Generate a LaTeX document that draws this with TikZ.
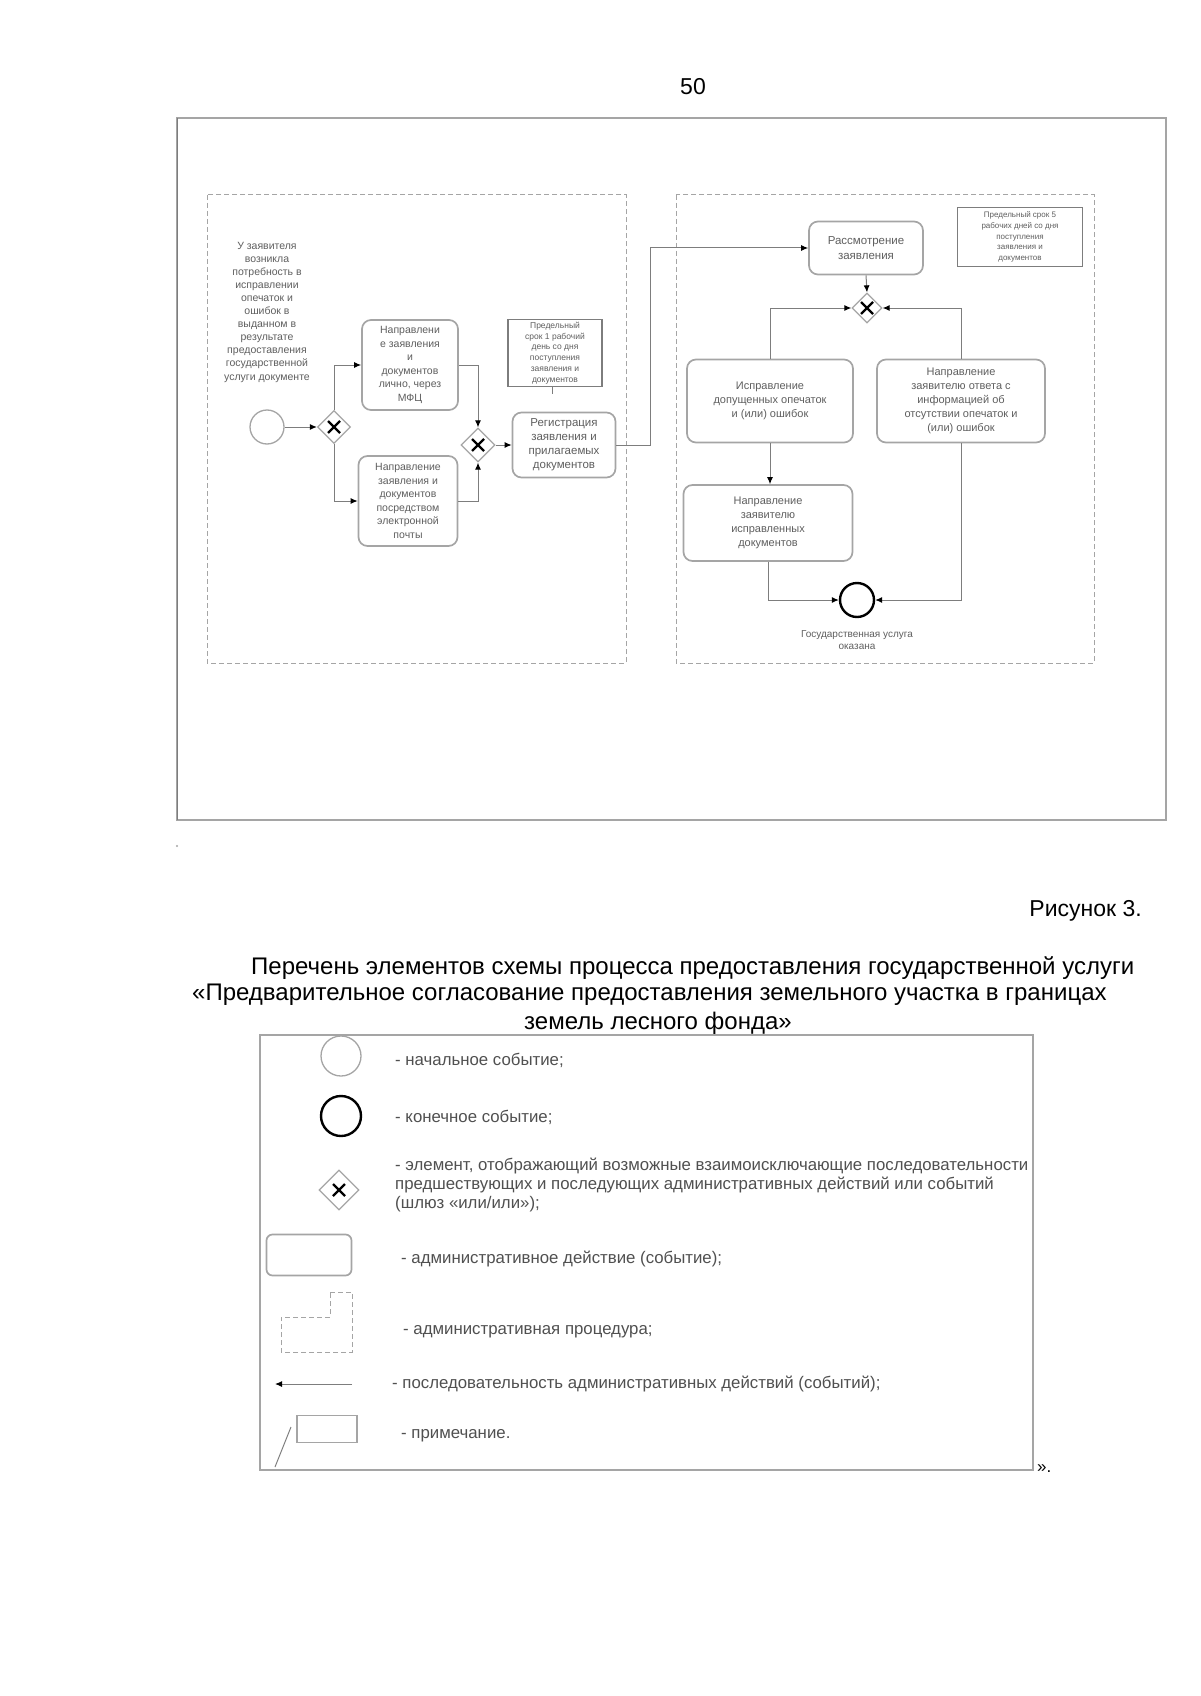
\documentclass[tikz,border=0pt]{standalone}
\usepackage{fontspec}
\setmainfont{Liberation Sans}
\usetikzlibrary{shapes.geometric,arrows.meta,calc}
\definecolor{txtgray}{RGB}{95,95,95}
\definecolor{leggray}{RGB}{80,80,80}
\definecolor{linegray}{RGB}{125,125,125}
\definecolor{boxgray}{RGB}{165,165,165}
\newcommand{\myfs}[2]{\fontsize{#1}{#2}\selectfont}
\begin{document}
\begin{tikzpicture}[x=1pt,y=-1pt,
  box/.style={draw=boxgray, line width=1.7pt, rounded corners=9pt, align=center, text=txtgray, inner sep=2pt},
  note/.style={draw=linegray, line width=1.4pt, align=center, text=txtgray, inner sep=1pt},
  gw/.style={diamond, draw=boxgray, line width=1.3pt, minimum width=#1, minimum height=#1, inner sep=0pt,
    path picture={
      \draw[black,line width=2.4pt] ($(path picture bounding box.center)+(-6,-6)$) -- ($(path picture bounding box.center)+(6,6)$);
      \draw[black,line width=2.4pt] ($(path picture bounding box.center)+(-6,6)$) -- ($(path picture bounding box.center)+(6,-6)$);}},
  startev/.style={circle, draw=boxgray, line width=1.3pt, minimum size=#1, inner sep=0pt},
  endev/.style={circle, draw=black, line width=2.4pt, minimum size=#1, inner sep=0pt},
  flow/.style={draw=linegray, line width=1pt, -{Latex[length=7pt,width=6pt,color=black]}},
  plain/.style={draw=linegray, line width=1pt},
  lane/.style={draw=boxgray, line width=1pt, dash pattern=on 5pt off 3pt},
  txt/.style={align=center, text=txtgray, inner sep=0pt},
  legtxt/.style={anchor=west, text=leggray, inner sep=0pt, align=left, font=\myfs{16.8}{19}},
  head/.style={inner sep=0pt, font=\myfs{24}{27}}
]
\useasboundingbox (0,0) rectangle (1200,1696);
\fill[white] (0,0) rectangle (1200,1696);

% page number
\node[inner sep=0pt, font=\myfs{23}{26}] (pnum) at (693,87) {50};

% outer frame
\draw[boxgray, line width=1.3pt] (177,118) rectangle (1166,820);
\draw[boxgray, line width=2.5pt] (177,118) -- (1166,118);
\draw[linegray, line width=1pt] (177,118) -- (177,820);

% lanes
\draw[lane] (207,195) rectangle (626,663);
\draw[lane] (676,195) rectangle (1094,663);

% left lane
\node[txt, font=\myfs{10.5}{13.1}] (need) at (267,312) {У заявителя\\возникла\\потребность в\\исправлении\\опечаток и\\ошибок в\\выданном в\\результате\\предоставления\\государственной\\услуги документе};
\node[startev=34pt] (start) at (267,427) {};
\node[gw=33pt] (g1) at (334,427) {};
\node[box, minimum width=96pt, minimum height=90pt, font=\myfs{10.5}{13.5}] (boxA) at (410,365) {Направлени\\е заявления\\и\\документов\\лично, через\\МФЦ};
\node[box, minimum width=99pt, minimum height=90pt, font=\myfs{10.5}{13.5}] (boxB) at (408,501) {Направление\\заявления и\\документов\\посредством\\электронной\\почты};
\node[gw=34pt] (g2) at (478,445) {};
\node[box, minimum width=103pt, minimum height=65pt, font=\myfs{11.5}{14}] (reg) at (564,445) {Регистрация\\заявления и\\прилагаемых\\документов};
\node[note, minimum width=94pt, minimum height=67pt, font=\myfs{8.5}{10.8}] (note1) at (555,353) {Предельный\\срок 1 рабочий\\день со дня\\поступления\\заявления и\\документов};
\coordinate (n1end) at (552,394);
\draw[plain] (note1.south -| n1end) -- (n1end);

\draw[flow] (start) -- (g1);
\draw[flow] (g1.north) |- (boxA.west);
\draw[flow] (g1.south) |- (boxB.west);
\draw[flow] (boxA.east) -| (g2.north);
\draw[flow] (boxB.east) -| (g2.south);
\draw[flow] (g2.east) -- (reg.west);

% right lane
\node[box, minimum width=114pt, minimum height=53pt, font=\myfs{11.5}{15}] (rass) at (866,248) {Рассмотрение\\заявления};
\node[note, minimum width=125pt, minimum height=59pt, font=\myfs{8}{10.8}] (note2) at (1020,237) {Предельный срок 5\\рабочих дней со дня\\поступления\\заявления и\\документов};
\node[gw=30pt] (g3) at (867,308) {};
\node[box, minimum width=166pt, minimum height=83pt, font=\myfs{11}{14}] (ispr) at (770,401) {Исправление\\допущенных опечаток\\и (или) ошибок};
\node[box, minimum width=168pt, minimum height=83pt, font=\myfs{11}{14}] (otv) at (961,401) {Направление\\заявителю ответа с\\информацией об\\отсутствии опечаток и\\(или) ошибок};
\node[box, minimum width=169pt, minimum height=76pt, font=\myfs{11}{14}] (napr) at (768,523) {Направление\\заявителю\\исправленных\\документов};
\node[endev=34pt] (endev) at (857,600) {};
\node[txt, font=\myfs{10}{12.5}] (endlbl) at (857,640) {Государственная услуга\\оказана};

\coordinate (t1) at (650,445);
\draw[flow] (reg.east) -- (t1) |- (rass.west);
\draw[flow] (rass.south) -- (g3.north);
\draw[flow] (ispr.north) |- (g3.west);
\draw[flow] (otv.north) |- (g3.east);
\draw[flow] (ispr.south) -- (ispr.south |- napr.north);
\draw[flow] (napr.south) |- (endev.west);
\draw[flow] (otv.south) |- (endev.east);

% small dot
\fill[boxgray] (177,846) circle (1.2);

% caption
\node[inner sep=0pt, anchor=east, font=\myfs{23}{26}] (fig) at (1142,911) {Рисунок 3.};
\node[head, anchor=west] (h1) at (251,968) {Перечень элементов схемы процесса предоставления государственной услуги};
\node[head, anchor=west] (h2) at (192,995) {«Предварительное согласование предоставления земельного участка в границах};
\node[head] (h3) at (658,1023) {земель лесного фонда»};

% legend
\draw[boxgray, line width=1.2pt] (260,1035) rectangle (1033,1470);
\node[inner sep=0pt, anchor=west, font=\myfs{17}{20}] (quote) at (1037,1469) {».};

\node[startev=40pt] (lstart) at (341,1056) {};
\node[legtxt] (lt1) at (395,1060) {- начальное событие;};
\node[endev=40pt] (lend) at (341,1116) {};
\node[legtxt] (lt2) at (395,1117) {- конечное событие;};
\node[gw=40pt] (lgw) at (339,1190) {};
\node[legtxt] (lt3) at (395,1185) {- элемент, отображающий возможные взаимоисключающие последовательности\\предшествующих и последующих административных действий или событий\\(шлюз «или/или»);};
\node[box, minimum width=85pt, minimum height=41pt, rounded corners=6pt] (lbox) at (309,1255) {};
\node[legtxt] (lt4) at (401,1259) {- административное действие (событие);};
\draw[lane] (330,1292) -- (352,1292) -- (352,1352) -- (281,1352) -- (281,1317) -- (330,1317) -- cycle;
\node[legtxt] (lt5) at (403,1332) {- административная процедура;};
\coordinate (la1) at (352,1384);
\coordinate (la2) at (275,1384);
\draw[flow] (la1) -- (la2);
\node[legtxt] (lt6) at (392,1384) {- последовательность административных действий (событий);};
\node[note, draw=boxgray, minimum width=60pt, minimum height=27pt] (lnote) at (327,1429) {};
\coordinate (lna) at (275,1467);
\draw[plain] (lna) -- (291,1427);
\node[legtxt] (lt7) at (401,1436) {- примечание.};
\end{tikzpicture}
\end{document}
